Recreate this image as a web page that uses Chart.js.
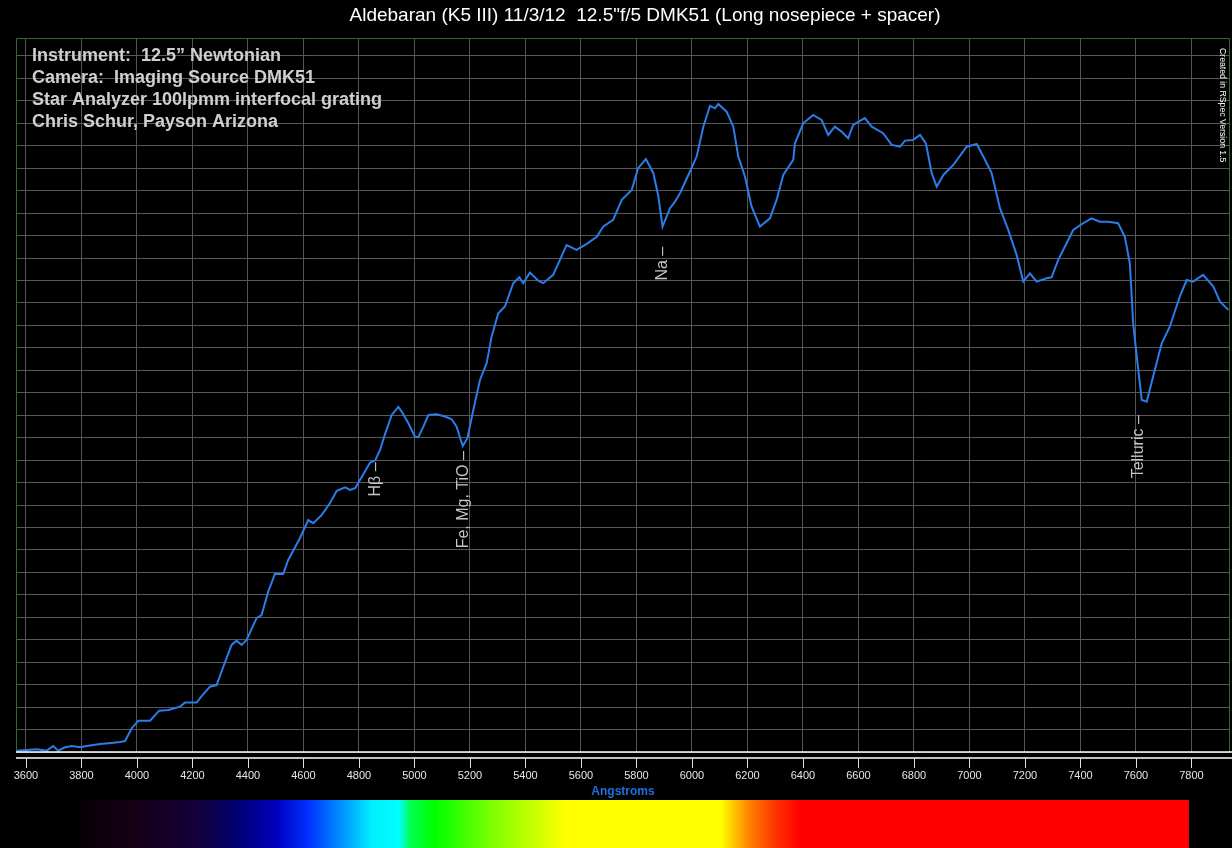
<!DOCTYPE html>
<html><head><meta charset="utf-8">
<script src="https://cdn.jsdelivr.net/npm/chart.js@4.4.1/dist/chart.umd.min.js"></script>
<style>html,body{margin:0;padding:0;background:#000;overflow:hidden}#wrap{width:1232px;height:848px}</style>
</head><body><div id="wrap"><canvas id="c" width="1232" height="848"></canvas></div>
<script>
// ---- data ----
const titleText = 'Aldebaran (K5 III) 11/3/12  12.5"f/5 DMK51 (Long nosepiece + spacer)';
const infoLines = ['Instrument:  12.5\u201d Newtonian', 'Camera:  Imaging Source DMK51', 'Star Analyzer 100lpmm interfocal grating', 'Chris Schur, Payson Arizona'];
const creditText = 'Created in RSpec Version 1.5';
const xAxisTitle = 'Angstroms';
const xMin = 3564, xMax = 7939;
const xTickValues = [3600,3800,4000,4200,4400,4600,4800,5000,5200,5400,5600,5800,6000,6200,6400,6600,6800,7000,7200,7400,7600,7800];
const yMin = 0, yMax = 31.8, yStep = 1;

const wavelengths = [3564,3603,3639,3675,3698,3716,3741,3765,3795,3819,3867,3915,3939,3957,3981,4005,4047,4080,4113,4155,4173,4215,4233,4263,4287,4309,4341,4359,4377,4395,4431,4449,4473,4497,4527,4545,4587,4617,4635,4666,4695,4720,4750,4768,4786,4810,4840,4858,4876,4894,4918,4942,4954,4978,5002,5014,5032,5050,5080,5110,5134,5152,5174,5191,5212,5236,5260,5278,5302,5326,5356,5378,5392,5416,5446,5464,5500,5548,5584,5621,5657,5680,5716,5747,5783,5806,5834,5861,5879,5894,5921,5939,5957,5987,6017,6041,6065,6083,6095,6125,6149,6167,6191,6215,6245,6281,6305,6329,6365,6371,6401,6437,6467,6491,6515,6539,6563,6581,6623,6648,6689,6720,6750,6768,6797,6822,6843,6864,6882,6906,6942,6990,7026,7050,7080,7110,7140,7170,7194,7218,7242,7278,7296,7320,7350,7374,7410,7440,7470,7500,7536,7560,7578,7590,7603,7621,7639,7662,7693,7722,7758,7783,7806,7842,7879,7903,7933];
const intensity = [0.06,0.09,0.12,0.06,0.27,0.06,0.21,0.27,0.21,0.27,0.36,0.41,0.45,0.49,1.06,1.39,1.39,1.84,1.87,2.02,2.20,2.20,2.49,2.91,2.98,3.73,4.77,4.96,4.77,4.99,5.96,6.10,7.14,7.93,7.93,8.55,9.52,10.33,10.19,10.56,11.08,11.63,11.79,11.67,11.75,12.25,12.89,12.98,13.45,14.16,15.01,15.37,15.16,14.64,14.04,14.02,14.49,15.01,15.04,14.94,14.82,14.49,13.63,13.99,15.23,16.57,17.31,18.50,19.54,19.84,20.88,21.14,20.88,21.35,20.99,20.88,21.25,22.58,22.36,22.63,22.95,23.40,23.70,24.59,25.03,26.00,26.41,25.78,24.74,23.40,24.22,24.51,24.89,25.70,26.52,27.85,28.78,28.67,28.86,28.52,27.85,26.52,25.63,24.29,23.40,23.77,24.59,25.70,26.37,27.11,28.00,28.37,28.15,27.48,27.85,27.63,27.34,27.93,28.23,27.85,27.56,27.04,26.96,27.23,27.26,27.48,27.11,25.78,25.18,25.70,26.15,26.96,27.08,26.52,25.78,24.22,23.25,22.14,20.95,21.32,20.95,21.10,21.14,21.92,22.66,23.25,23.55,23.77,23.62,23.62,23.55,22.95,21.77,19.10,17.61,15.68,15.60,16.72,18.20,18.94,20.28,21.02,20.95,21.25,20.73,20.06,19.69];

const lineLabels = ['H\u03b2 \u2013', 'Fe, Mg, TiO \u2013', 'Na \u2013', 'Telluric \u2013'];
const lineWavelengths = [4861, 5178, 5894, 7611];
const lineLabelTops = [12.9, 13.4, 22.5, 15.0];

const spectrumStart = 3795, spectrumEnd = 7791;
const spectrumStopWavelengths = [3795,3975,4220,4360,4505,4616,4717,4847,4944,4984,5074,5286,5542,6105,6155,6209,6306,6389,7791];

// ---- styles ----
const spectrumStopColors = ['#050005','#170015','#12003a','#000070','#0000c0','#0030ff','#0080ff','#00f0ff','#00ffff','#00ff50','#00ff00','#80ff00','#ffff00','#ffff00','#ffc000','#ff8000','#ff3000','#ff0000','#ff0000'];
const FONT = '"Liberation Sans", Arial, sans-serif';

const decor = {
  id: 'decor',
  beforeDraw(chart) {
    const ctx = chart.ctx;
    ctx.save();
    ctx.fillStyle = '#000';
    ctx.fillRect(0, 0, chart.width, chart.height);
    ctx.restore();
  },
  afterDatasetsDraw(chart) {
    const ctx = chart.ctx, xs = chart.scales.x, ys = chart.scales.y;
    ctx.save();
    ctx.fillStyle = '#c4c4c4';
    ctx.font = '16px ' + FONT;
    ctx.textAlign = 'right';
    ctx.textBaseline = 'middle';
    lineLabels.forEach((t, i) => {
      const px = xs.getPixelForValue(lineWavelengths[i]);
      const py = ys.getPixelForValue(lineLabelTops[i]);
      ctx.save();
      ctx.translate(px, py);
      ctx.rotate(-Math.PI / 2);
      ctx.fillText(t, 0, 0);
      ctx.restore();
    });
    ctx.restore();
  },
  afterDraw(chart) {
    const ctx = chart.ctx, a = chart.chartArea, xs = chart.scales.x;
    ctx.save();
    // green frame
    ctx.strokeStyle = '#2f6b2f';
    ctx.lineWidth = 1;
    ctx.beginPath();
    ctx.moveTo(a.left + 0.5, a.bottom);
    ctx.lineTo(a.left + 0.5, a.top + 0.5);
    ctx.lineTo(a.right - 0.5, a.top + 0.5);
    ctx.lineTo(a.right - 0.5, a.bottom);
    ctx.stroke();
    // double white base lines
    ctx.strokeStyle = '#ffffff';
    ctx.lineWidth = 1.5;
    ctx.beginPath();
    ctx.moveTo(a.left, a.bottom);
    ctx.lineTo(chart.width, a.bottom);
    ctx.moveTo(a.left, a.bottom + 6);
    ctx.lineTo(chart.width, a.bottom + 6);
    ctx.stroke();
    // tick marks
    ctx.lineWidth = 1;
    ctx.strokeStyle = '#dddddd';
    ctx.beginPath();
    xs.ticks.forEach(t => {
      const px = Math.round(xs.getPixelForValue(t.value)) + 0.5;
      ctx.moveTo(px, a.bottom + 6);
      ctx.lineTo(px, a.bottom + 16);
    });
    ctx.stroke();
    // title
    ctx.fillStyle = '#ffffff';
    ctx.font = '19px ' + FONT;
    ctx.textAlign = 'center';
    ctx.textBaseline = 'middle';
    ctx.fillText(titleText, 645, 16);
    // info block
    ctx.fillStyle = '#cfcfcf';
    ctx.font = 'bold 18px ' + FONT;
    ctx.textAlign = 'left';
    ctx.textBaseline = 'alphabetic';
    infoLines.forEach((t, i) => ctx.fillText(t, 32, 61 + i * 22));
    // credit (rotated)
    ctx.save();
    ctx.translate(1222.5, 48);
    ctx.rotate(Math.PI / 2);
    ctx.fillStyle = '#ffffff';
    ctx.font = '8.7px ' + FONT;
    ctx.textAlign = 'left';
    ctx.textBaseline = 'middle';
    ctx.fillText(creditText, 0, 0);
    ctx.restore();
    // spectrum bar
    const x0 = xs.getPixelForValue(spectrumStart), x1 = xs.getPixelForValue(spectrumEnd);
    const g = ctx.createLinearGradient(x0, 0, x1, 0);
    spectrumStopWavelengths.forEach((w, i) => {
      g.addColorStop((w - spectrumStart) / (spectrumEnd - spectrumStart), spectrumStopColors[i]);
    });
    ctx.fillStyle = g;
    ctx.fillRect(x0, 800, x1 - x0, 48);
    ctx.restore();
  }
};

new Chart(document.getElementById('c'), {
  type: 'line',
  data: {
    datasets: [{
      data: wavelengths.map((w, i) => ({x: w, y: intensity[i]})),
      borderColor: '#2b7de9',
      borderWidth: 2,
      pointRadius: 0,
      tension: 0,
      fill: false
    }]
  },
  options: {
    responsive: false,
    animation: false,
    devicePixelRatio: 1,
    layout: {padding: {left: 16, right: 2, top: 38, bottom: 48}},
    plugins: {legend: {display: false}, tooltip: {enabled: false}, title: {display: false}},
    scales: {
      x: {
        type: 'linear', min: xMin, max: xMax,
        afterBuildTicks: s => { s.ticks = xTickValues.map(v => ({value: v})); },
        afterFit: s => { s.height = 48; s.paddingLeft = 0; s.paddingRight = 0; },
        ticks: {color: '#e6e6e6', font: {size: 11, family: FONT}, padding: 17, maxRotation: 0, autoSkip: false, callback: v => String(v)},
        grid: {color: '#555555', lineWidth: 1, drawTicks: false},
        border: {display: false},
        title: {display: true, text: xAxisTitle, color: '#1f6fdc', font: {size: 12, weight: 'bold', family: FONT}, padding: {top: 0, bottom: 1}}
      },
      y: {
        type: 'linear', min: yMin, max: yMax,
        afterFit: s => { s.width = 0; },
        ticks: {stepSize: yStep, includeBounds: false, display: false},
        grid: {color: '#585858', lineWidth: 1, drawTicks: false},
        border: {display: false}
      }
    }
  },
  plugins: [decor]
});
</script>
</body></html>
